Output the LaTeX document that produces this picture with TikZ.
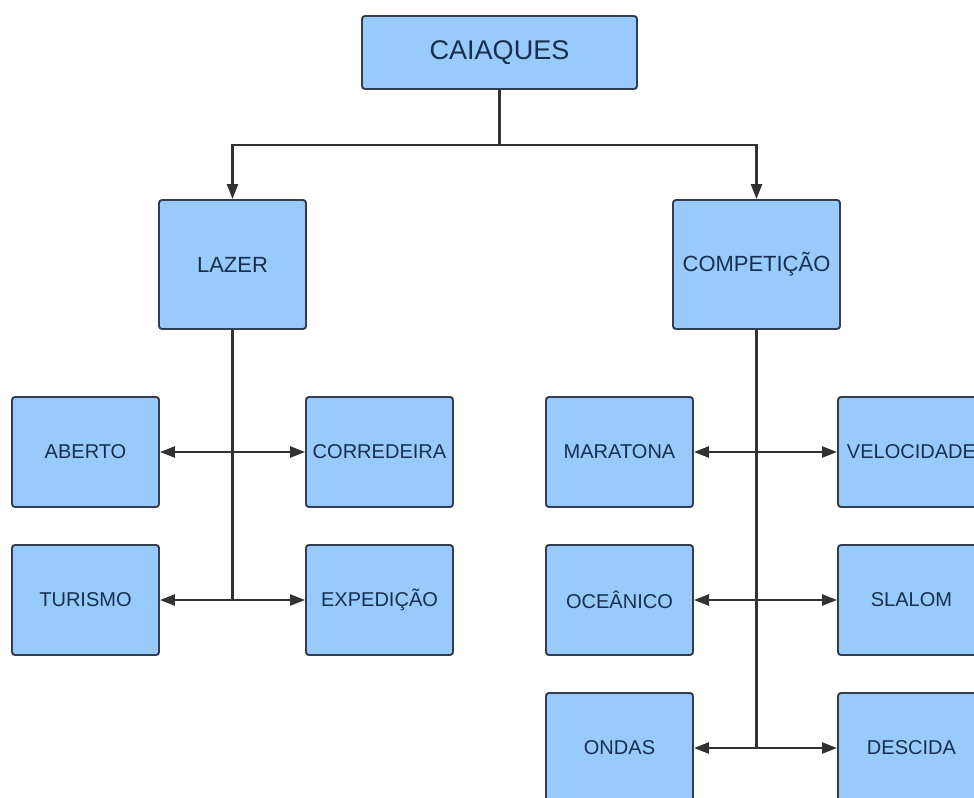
\documentclass[tikz,border=0pt]{standalone}
\usepackage{fontspec}
\setsansfont{Liberation Sans}
\usepackage{tikz}
\usetikzlibrary{arrows.meta, positioning}

\definecolor{boxfill}{RGB}{153,202,252}
\definecolor{boxline}{RGB}{50,62,78}
\definecolor{boxtext}{RGB}{24,46,80}
\definecolor{wire}{RGB}{50,50,50}

\begin{document}
\begin{tikzpicture}[
    box/.style={rectangle, draw=boxline, fill=boxfill, rounded corners=0.06cm,
                line width=1.1pt, align=center, text=boxtext,
                font=\sffamily\fontsize{11.4}{13}\selectfont,
                minimum width=2.94cm, minimum height=2.2cm, inner sep=1pt},
    midbox/.style={box, minimum height=2.58cm, font=\sffamily\fontsize{12.5}{14}\selectfont},
    rootbox/.style={box, minimum width=5.5cm, minimum height=1.46cm,
                    font=\sffamily\fontsize{15.4}{18}\selectfont},
    link/.style={draw=wire, line width=1.4pt},
    arrow/.style={link, -{Triangle[length=0.3cm, width=0.22cm]}}
]
    \useasboundingbox (0,0) rectangle (19.48,-15.96);

    % Top level
    \node[rootbox] (caiaques) at (9.99, -1.05) {CAIAQUES};

    % Second level
    \node[midbox] (lazer)      at (4.65, -5.29) {LAZER};
    \node[midbox, minimum width=3.34cm] (competicao) at (15.13, -5.29) {COMPETIÇÃO};

    % Lazer leaves
    \node[box] (aberto)     at (1.71,  -9.04) {ABERTO};
    \node[box] (corredeira) at (7.59,  -9.04) {CORREDEIRA};
    \node[box] (turismo)    at (1.71, -12.00) {TURISMO};
    \node[box] (expedicao)  at (7.59, -12.00) {EXPEDIÇÃO};

    % Competicao leaves
    \node[box] (maratona)   at (12.39,  -9.04) {MARATONA};
    \node[box] (velocidade) at (18.23,  -9.04) {VELOCIDADE};
    \node[box] (oceanico)   at (12.39, -12.00) {OCEÂNICO};
    \node[box] (slalom)     at (18.23, -12.00) {SLALOM};
    \node[box] (ondas)      at (12.39, -14.96) {ONDAS};
    \node[box] (descida)    at (18.23, -14.96) {DESCIDA};

    % ── root split ──
    \coordinate (split) at (9.99, -2.9);
    \draw[link]  (caiaques.south) -- (split);
    \draw[arrow] (split) -| (lazer.north);
    \draw[arrow] (split) -| (competicao.north);

    % ── Lazer trunk ──
    \coordinate (lz1) at (lazer |- aberto);
    \coordinate (lz2) at (lazer |- turismo);
    \draw[link] (lazer.south) -- (lz2);
    \draw[arrow] (lz1) -- (aberto);
    \draw[arrow] (lz1) -- (corredeira);
    \draw[arrow] (lz2) -- (turismo);
    \draw[arrow] (lz2) -- (expedicao);

    % ── Competicao trunk ──
    \coordinate (cp1) at (competicao |- maratona);
    \coordinate (cp2) at (competicao |- oceanico);
    \coordinate (cp3) at (competicao |- ondas);
    \draw[link] (competicao.south) -- (cp3);
    \draw[arrow] (cp1) -- (maratona);
    \draw[arrow] (cp1) -- (velocidade);
    \draw[arrow] (cp2) -- (oceanico);
    \draw[arrow] (cp2) -- (slalom);
    \draw[arrow] (cp3) -- (ondas);
    \draw[arrow] (cp3) -- (descida);
\end{tikzpicture}
\end{document}
